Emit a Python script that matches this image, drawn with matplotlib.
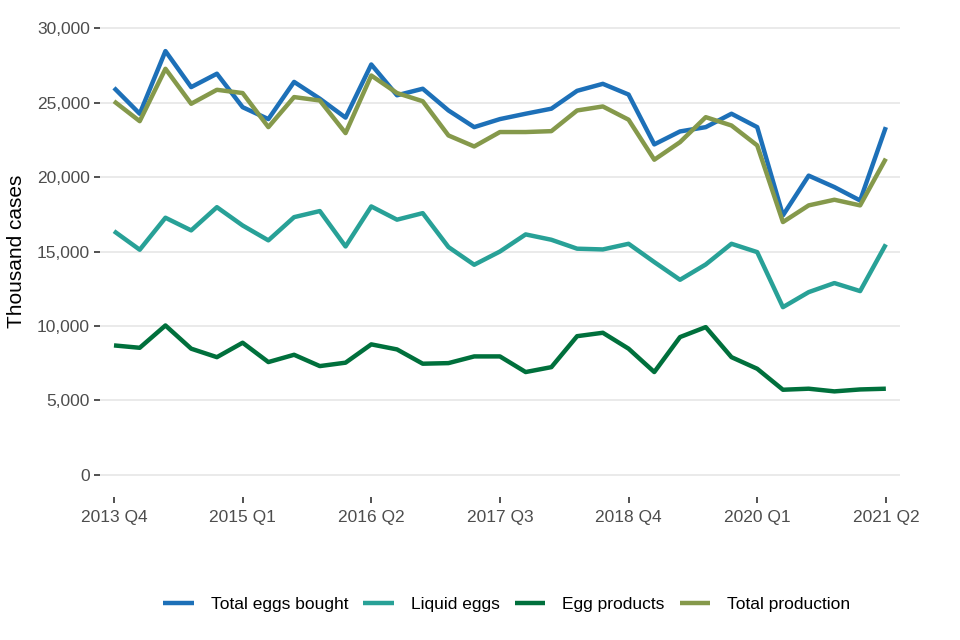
import matplotlib.pyplot as plt
import numpy as np

plt.rcParams['font.family'] = ['Liberation Sans', 'DejaVu Sans']

# Quarters from 2013 Q4 to 2021 Q2
quarters = []
for y in range(2013, 2022):
    for q in range(1, 5):
        if (y, q) >= (2013, 4) and (y, q) <= (2021, 2):
            quarters.append(f"{y} Q{q}")

# Thousand cases
total_bought = [26000, 24260, 28470, 26050, 26950, 24700, 23900, 26400, 25270, 24000,
                27570, 25500, 25940, 24480, 23360, 23900, 24260, 24600, 25800, 26270,
                25550, 22200, 23070, 23360, 24260, 23360, 17430, 20100, 19330, 18430,
                23360]
liquid_eggs = [16370, 15120, 17270, 16420, 17980, 16750, 15750, 17310, 17720, 15340,
               18030, 17140, 17580, 15300, 14110, 15000, 16150, 15790, 15190, 15140,
               15520, 14290, 13100, 14130, 15520, 14960, 11260, 12270, 12880, 12340,
               15480]
egg_products = [8690, 8530, 10030, 8470, 7900, 8870, 7570, 8060, 7300, 7530,
                8760, 8420, 7460, 7500, 7950, 7950, 6900, 7230, 9310, 9540,
                8470, 6900, 9250, 9920, 7900, 7120, 5710, 5780, 5600, 5730,
                5780]
total_production = [25100, 23760, 27280, 24930, 25870, 25650, 23360, 25380, 25150, 22960,
                    26830, 25650, 25100, 22800, 22060, 23030, 23030, 23090, 24480, 24750,
                    23860, 21170, 22350, 24030, 23470, 22130, 16980, 18100, 18480, 18100,
                    21240]

series = [
    ("Total eggs bought", total_bought, "#1d70b8"),
    ("Liquid eggs", liquid_eggs, "#28a197"),
    ("Egg products", egg_products, "#00703c"),
    ("Total production", total_production, "#85994b"),
]

x = np.arange(len(quarters))

fig = plt.figure(figsize=(9.6, 6.4), dpi=100)
ax = fig.add_axes([0.104, 0.2234, 0.8335, 0.7672])

for label, vals, color in series:
    ax.plot(x, vals, color=color, lw=3.2, label=label, solid_capstyle='butt')

ax.set_xlim(-0.55, len(quarters) - 1 + 0.55)
ax.set_ylim(-1500, 31500)
ax.set_yticks(np.arange(0, 30001, 5000))
ax.yaxis.set_major_formatter(plt.FuncFormatter(lambda v, p: f"{int(v):,}"))
tick_idx = x[::5]
ax.set_xticks(tick_idx)
ax.set_xticklabels([quarters[i] for i in tick_idx])

ax.grid(axis='y', color='#e6e6e6', lw=1.2)
ax.set_axisbelow(True)
for s in ax.spines.values():
    s.set_visible(False)
ax.tick_params(axis='both', colors='#333333', labelcolor='#4d4d4d', labelsize=12.5,
               length=4, width=1.2)
ax.tick_params(axis='y', pad=3)
ax.tick_params(axis='x', pad=5)

ax.set_ylabel("Thousand cases", fontsize=15, color='black', labelpad=8)

fig.legend(loc='center', bbox_to_anchor=(0.528, 0.055), ncol=4, frameon=False,
           fontsize=12.5, handlelength=1.75, handletextpad=1.0, columnspacing=0.85)

fig.savefig("out.png", dpi=100)
